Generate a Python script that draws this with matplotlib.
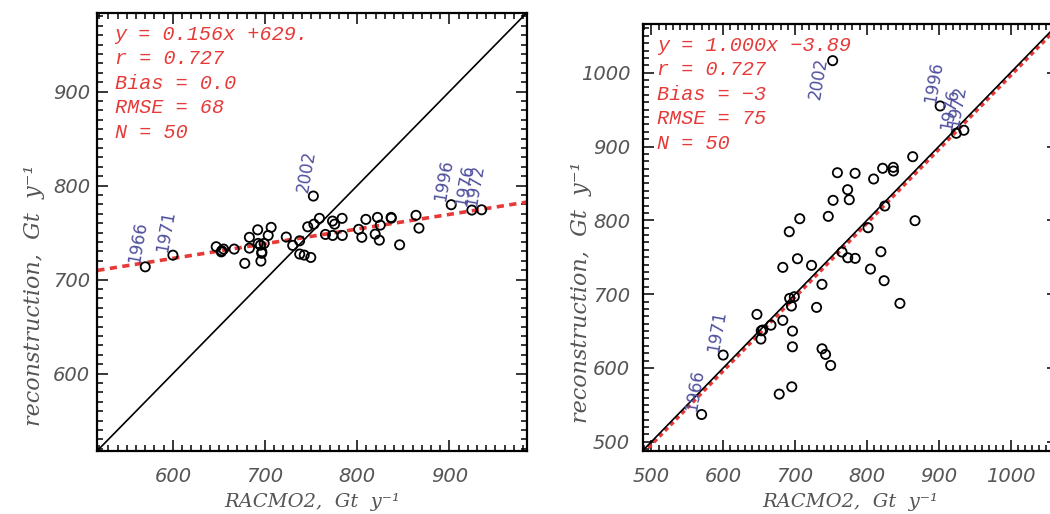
import matplotlib
matplotlib.use("Agg")
import matplotlib.pyplot as plt
from matplotlib.ticker import MultipleLocator

# RACMO2 values (shared by both panels), Gt/yr
racmo = [570, 600, 647, 653, 655, 652.5, 666.5, 678, 683, 683,
         692, 692.5, 695, 699, 696.5, 696.4, 695.5, 703.4, 706.6, 723,
         730, 737.5, 737.6, 742.5, 749.6, 746.3, 752.4, 753, 759, 765.5,
         773.2, 775.5, 773.4, 783.6, 783.8, 801.6, 805, 809.4, 819.5, 822,
         824, 825, 836.8, 837, 846, 863.8, 867, 902, 924.4, 935]

# left panel: raw reconstruction
recon_raw = [713.6, 726, 735, 730.7, 732.5, 729.5, 732.5, 717.3, 733.5, 745,
             753, 738.5, 736.7, 738.5, 729.6, 728, 719.7, 747, 755.6, 745.3,
             736.4, 741.3, 727.2, 726.1, 723.6, 756.2, 788.9, 759, 765.2, 748.1,
             762.3, 759, 747, 765.2, 747, 753.5, 745, 764.1, 748.4, 766.2,
             742, 758, 766.2, 765.4, 737, 768.4, 754.8, 779.7, 774, 774.3]

# right panel: rescaled reconstruction
recon_scaled = [537, 617.5, 672.6, 650.4, 651.4, 639.2, 658, 564.6, 664.5, 736.3,
                784.6, 694.3, 683.9, 696.5, 650, 628.7, 574.5, 748, 802.2, 739,
                682.1, 713.3, 626, 618.4, 603.5, 805.4, 1016.3, 827.1, 864.5, 757,
                841.5, 827.9, 749.3, 863.7, 748.5, 790, 734, 856, 757.5, 870.5,
                718.2, 819.4, 871.8, 866.8, 687.5, 886.2, 799.5, 954.9, 917.9, 922]

# labelled years -> index into the arrays above
years = {"1966": 0, "1971": 1, "2002": 26, "1996": 47, "1976": 48, "1972": 49}

fit_left = (0.156, 629.0)
fit_right = (1.000, -3.89)
stats_left = ["y = 0.156x +629.", "r = 0.727", "Bias = 0.0", "RMSE = 68", "N = 50"]
stats_right = ["y = 1.000x \u22123.89", "r = 0.727", "Bias = \u22123", "RMSE = 75", "N = 50"]

RED = "#e63a38"
BLUE = "#50509e"
GRAY = "#555555"

fig = plt.figure(figsize=(10.5, 5.14), dpi=100)
ax1 = fig.add_axes([0.0927, 0.1232, 0.4090, 0.8521])
ax2 = fig.add_axes([0.6121, 0.1232, 0.3955, 0.8302])


def panel(ax, xs, ys, lim, fit, stats, ticks, right=False):
    ax.set_xlim(lim)
    ax.set_ylim(lim)
    fx = list(lim)
    fy = [fit[0] * v + fit[1] for v in fx]
    ax.plot(fx, fy, color=RED, lw=2.6,
            dashes=(1.2, 1.0) if right else (2.0, 1.5), zorder=2)
    ax.plot(lim, lim, color="black", lw=1.2, zorder=3)
    ax.scatter(xs, ys, s=44, facecolors="none", edgecolors="black",
               linewidths=1.3, zorder=4)
    for yr, i in years.items():
        ha = "left"
        if right and yr == "2002":
            ha = "right"
        ax.text(xs[i] - 2, ys[i] + 2, yr, rotation=80, rotation_mode="anchor",
                ha=ha, va="bottom", fontsize=12, color=BLUE, zorder=5)
    ax.text(0.04 if not right else 0.034, 0.972, "\n".join(stats),
            transform=ax.transAxes, ha="left", va="top", color=RED,
            family="Liberation Mono", style="italic", fontsize=14.5,
            linespacing=1.36)
    ax.set_xticks(ticks)
    ax.set_yticks(ticks)
    ax.xaxis.set_minor_locator(MultipleLocator(10))
    ax.yaxis.set_minor_locator(MultipleLocator(10))
    ax.tick_params(which="both", direction="in", top=True, right=True,
                   colors="black", labelcolor=GRAY, labelsize=14, width=1.1)
    ax.tick_params(which="major", length=8)
    ax.tick_params(which="minor", length=4)
    ax.tick_params(axis="x", pad=12)
    ax.tick_params(axis="y", pad=5 if not right else 9)
    for lab in ax.get_xticklabels() + ax.get_yticklabels():
        lab.set_fontstyle("italic")
    for sp in ax.spines.values():
        sp.set_linewidth(1.6)
    ax.set_xlabel("RACMO2,  Gt  y\u207b\u00b9", family="DejaVu Serif",
                  style="italic", fontsize=14, color=GRAY, labelpad=5)


panel(ax1, racmo, recon_raw, (518, 984), fit_left, stats_left,
      [600, 700, 800, 900])
panel(ax2, racmo, recon_scaled, (488, 1066), fit_right, stats_right,
      [500, 600, 700, 800, 900, 1000], right=True)

for xc, yc in [(34, 295), (581, 292)]:
    fig.text(xc / 1050, 1 - yc / 514, "reconstruction,  Gt  y\u207b\u00b9",
             rotation=90, ha="center", va="center", family="DejaVu Serif",
             style="italic", fontsize=16, color=GRAY)

fig.savefig("out.png", dpi=100)
